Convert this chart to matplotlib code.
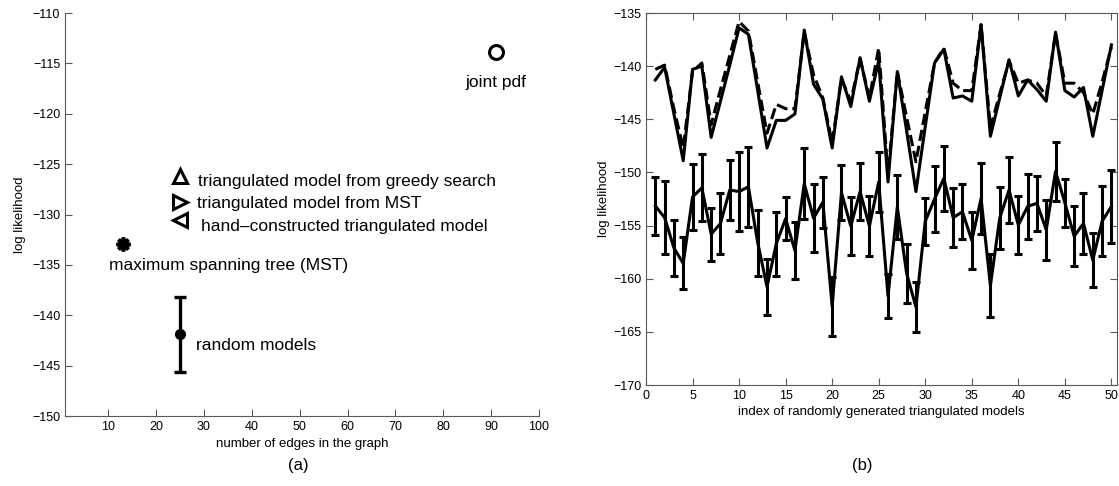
import numpy as np
import matplotlib
matplotlib.use("Agg")
from matplotlib import pyplot as plt

plt.rcParams["font.family"] = ["Liberation Sans", "DejaVu Sans"]

# ---- panel (a) data ----
joint_edges, joint_ll = 91, -113.9
greedy_edges, greedy_ll = 25, -126.2
mst_tri_edges, mst_tri_ll = 25, -128.8
hand_edges, hand_ll = 25, -130.5
mst_edges, mst_ll = 13.2, -132.9
rand_edges, rand_ll, rand_err = 25, -141.9, 3.7

# ---- panel (b) data ----
model_index = list(range(1, 51))
ll_solid = [-141.3, -140.1, -144.5, -148.9, -140.3, -140.0, -146.7, -143.3, -139.9, -136.4,
            -137.0, -142.3, -147.7, -145.1, -145.1, -144.5, -136.6, -141.7, -143.1, -147.7,
            -141.0, -143.8, -139.2, -143.3, -139.5, -150.9, -140.5, -146.1, -151.8, -145.7,
            -139.7, -138.4, -143.0, -142.8, -143.3, -136.1, -146.6, -143.0, -139.4, -142.8,
            -141.3, -142.2, -143.3, -136.8, -142.3, -142.9, -142.0, -146.6, -142.3, -138.0]
ll_dashed = [-140.3, -139.9, -144.0, -147.7, -140.5, -139.7, -145.5, -142.2, -139.0, -135.8,
             -136.7, -141.5, -146.3, -143.6, -144.0, -144.0, -136.8, -140.8, -143.0, -147.2,
             -141.2, -143.3, -139.3, -143.0, -138.3, -150.2, -140.5, -144.8, -149.0, -144.3,
             -139.7, -138.3, -141.6, -142.3, -142.3, -136.1, -145.8, -142.6, -139.5, -141.6,
             -141.3, -141.6, -142.8, -136.9, -141.6, -141.6, -142.5, -144.5, -141.5, -138.2]
ll_random = [-153.15, -154.25, -157.1, -158.55, -152.3, -151.45, -155.8, -154.8, -151.65, -151.8,
             -151.35, -156.6, -160.75, -156.7, -154.35, -157.35, -151.05, -154.3, -152.8, -162.6,
             -151.9, -155.05, -151.8, -155.05, -150.9, -161.65, -153.25, -159.5, -162.65, -154.6,
             -152.5, -150.55, -154.25, -153.7, -156.4, -152.45, -160.65, -154.3, -151.65, -154.95,
             -153.2, -152.9, -155.4, -149.9, -152.85, -156.0, -154.8, -158.25, -154.6, -153.2]
ll_random_err = [2.75, 3.45, 2.6, 2.45, 3.1, 3.15, 2.5, 2.9, 2.85, 3.7,
                 3.75, 3.1, 2.65, 3.0, 2.05, 2.65, 3.35, 3.2, 2.4, 2.8,
                 2.6, 2.75, 2.7, 2.85, 2.8, 2.05, 3.0, 2.8, 2.35, 2.2,
                 3.1, 3.05, 2.75, 2.6, 2.7, 3.35, 2.95, 2.9, 3.15, 2.75,
                 3.1, 2.6, 2.8, 2.8, 2.25, 2.8, 2.9, 2.55, 3.3, 3.4]

fig = plt.figure(figsize=(11.19, 4.86), dpi=100)
ax1 = fig.add_axes([0.0581, 0.144, 0.4236, 0.8292])
ax2 = fig.add_axes([0.5773, 0.2078, 0.4209, 0.7654])

spine_col = "0.35"

# ---- panel (a) ----
ax1.plot(joint_edges, joint_ll, "o", ms=10, mfc="white", mec="black", mew=2.2)
ax1.plot(greedy_edges, greedy_ll, "^", ms=10, mfc="white", mec="black", mew=2.2)
ax1.plot(mst_tri_edges, mst_tri_ll, ">", ms=10, mfc="white", mec="black", mew=2.2)
ax1.plot(hand_edges, hand_ll, "<", ms=10, mfc="white", mec="black", mew=2.2)
ax1.plot(mst_edges, mst_ll, marker=(8, 2, 0), ms=10, color="black", mew=2.6, ls="none")
ax1.errorbar(rand_edges, rand_ll, yerr=rand_err, fmt="o", ms=7, color="black",
             elinewidth=2.4, capsize=4, capthick=2.4)

lab = dict(fontsize=12.5, color="black", va="center")
ax1.text(joint_edges, -116.9, "joint pdf", ha="center", **lab)
ax1.text(28.75, -126.7, "triangulated model from greedy search", ha="left", **lab)
ax1.text(28.5, -128.9, "triangulated model from MST", ha="left", **lab)
ax1.text(29.4, -131.2, "hand\u2013constructed triangulated model", ha="left", **lab)
ax1.text(10.2, -135.05, "maximum spanning tree (MST)", ha="left", **lab)
ax1.text(28.3, -143.0, "random models", ha="left", **lab)

ax1.set_xlim(1, 100)
ax1.set_ylim(-150, -110)
ax1.set_xticks(range(10, 101, 10))
ax1.set_yticks(range(-150, -109, 5))
ax1.set_yticklabels(["\u2212%d" % -v for v in range(-150, -109, 5)])
ax1.spines["top"].set_visible(False)
ax1.spines["right"].set_visible(False)
for s in ["left", "bottom"]:
    ax1.spines[s].set_color(spine_col)
ax1.tick_params(direction="in", length=5, labelsize=9, color=spine_col)
ax1.set_xlabel("number of edges in the graph", fontsize=9.5, labelpad=4)
ax1.set_ylabel("log likelihood", fontsize=9.5, labelpad=4)

# ---- panel (b) ----
ax2.plot(model_index, ll_dashed, "--", color="black", lw=2.2)
ax2.plot(model_index, ll_solid, "-", color="black", lw=2.2)
ax2.errorbar(model_index, ll_random, yerr=ll_random_err, fmt="-", color="black",
             lw=2.2, elinewidth=2.2, capsize=3, capthick=2.2)

ax2.set_xlim(0, 50.6)
ax2.set_ylim(-170, -135)
ax2.set_xticks(range(0, 51, 5))
ax2.set_yticks(range(-170, -134, 5))
ax2.set_yticklabels(["\u2212%d" % -v for v in range(-170, -134, 5)])
for s in ax2.spines.values():
    s.set_color(spine_col)
ax2.tick_params(direction="in", length=5, labelsize=9, color=spine_col,
                top=True, right=True)
ax2.set_xlabel("index of randomly generated triangulated models", fontsize=9.5, labelpad=3)
ax2.set_ylabel("log likelihood", fontsize=9.5, labelpad=2)

fig.text(298 / 1119, 1 - 465 / 486, "(a)", ha="center", va="center", fontsize=12)
fig.text(862 / 1119, 1 - 465 / 486, "(b)", ha="center", va="center", fontsize=12)

fig.savefig("out.png", dpi=100)
